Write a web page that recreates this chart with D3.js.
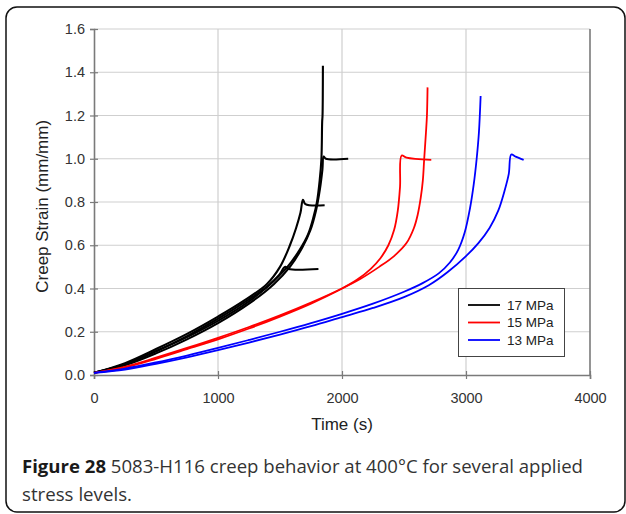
<!DOCTYPE html>
<html lang="en">
<head>
<meta charset="UTF-8">
<title>Creep behavior</title>
<style>
  body { margin: 0; background: #fff; }
  svg { display: block; }
</style>
</head>
<body>
<svg width="626" height="514"></svg>
<script src="https://d3js.org/d3.v7.min.js"></script>
<script>

// Data

const timeTicks = [0, 1000, 2000, 3000, 4000];
const strainTicks = [0, 0.2, 0.4, 0.6, 0.8, 1.0, 1.2, 1.4, 1.6];
const legendLabels = ["17 MPa", "15 MPa", "13 MPa"];

// 17 MPa specimens, [time (s), strain]
const mpa17a = [[0,0.01],[250,0.05],[500,0.11],[750,0.175],[1000,0.25],[1250,0.34],[1420,0.42],[1560,0.5],[1660,0.58],[1726,0.65],[1770,0.73],[1798,0.8],[1820,0.9],[1834,1.0],[1840,1.17],[1843,1.2],[1846,1.43]];
const mpa17b = [[0,0.01],[250,0.045],[500,0.1],[750,0.165],[1000,0.24],[1250,0.33],[1450,0.42],[1580,0.5],[1680,0.59],[1745,0.67],[1790,0.76],[1822,0.86],[1842,0.95],[1852,1.01],[1870,1.0],[2050,1.0]];
const mpa17c = [[0,0.01],[250,0.055],[500,0.12],[750,0.19],[1000,0.27],[1200,0.34],[1393,0.42],[1500,0.5],[1580,0.6],[1630,0.68],[1665,0.75],[1685,0.81],[1705,0.79],[1860,0.785]];
const mpa17d = [[0,0.01],[250,0.05],[500,0.11],[750,0.18],[1000,0.26],[1250,0.35],[1400,0.41],[1490,0.46],[1542,0.5],[1570,0.49],[1810,0.49]];

// 15 MPa specimens
const mpa15a = [[0,0.01],[250,0.038],[500,0.08],[750,0.125],[1000,0.172],[1250,0.222],[1500,0.276],[1750,0.335],[2000,0.4],[2150,0.445],[2300,0.5],[2420,0.55],[2520,0.61],[2580,0.68],[2610,0.74],[2635,0.82],[2652,0.9],[2663,1.0],[2677,1.12],[2685,1.2],[2690,1.33]];
const mpa15b = [[0,0.01],[250,0.035],[500,0.075],[750,0.12],[1000,0.165],[1250,0.215],[1500,0.27],[1750,0.33],[2000,0.4],[2120,0.44],[2230,0.49],[2310,0.54],[2374,0.6],[2420,0.67],[2450,0.76],[2468,0.87],[2481,1.015],[2520,1.005],[2720,0.995]];

// 13 MPa specimens
const mpa13a = [[0,0.01],[250,0.03],[500,0.058],[750,0.09],[1000,0.125],[1250,0.162],[1500,0.2],[1750,0.24],[2000,0.283],[2250,0.33],[2500,0.385],[2650,0.425],[2780,0.47],[2870,0.52],[2938,0.58],[2990,0.66],[3032,0.77],[3062,0.88],[3086,1.0],[3104,1.12],[3118,1.29]];
const mpa13b = [[0,0.01],[250,0.025],[500,0.052],[750,0.082],[1000,0.115],[1250,0.15],[1500,0.187],[1750,0.226],[2000,0.268],[2250,0.31],[2500,0.36],[2700,0.415],[2850,0.475],[3000,0.55],[3100,0.61],[3190,0.68],[3260,0.76],[3310,0.85],[3345,0.93],[3365,1.02],[3400,1.01],[3465,0.995]];

// Colors

const COLORS = ["#000000", "#ff0000", "#0000ff"];

const series = [
  { data: mpa17a, level: 0 }, { data: mpa17b, level: 0 },
  { data: mpa17c, level: 0 }, { data: mpa17d, level: 0 },
  { data: mpa15a, level: 1 }, { data: mpa15b, level: 1 },
  { data: mpa13a, level: 2 }, { data: mpa13b, level: 2 },
];

// Layout

const margin = { left: 94, right: 36, top: 29, bottom: 139 };
const width = 626, height = 514;
const FONT = "'Liberation Sans', Arial, sans-serif";

const svg = d3.select("svg");

const x = d3.scaleLinear().domain([0, 4000]).range([margin.left, width - margin.right]);
const y = d3.scaleLinear().domain([0, 1.6]).range([height - margin.bottom, margin.top]);

// Frame

svg.append("rect")
  .attr("x", 6).attr("y", 7)
  .attr("width", 619).attr("height", 505)
  .attr("rx", 11)
  .attr("fill", "none")
  .attr("stroke", "#111")
  .attr("stroke-width", 1.5);

// Grid

svg.append("g")
  .selectAll("line")
  .data(strainTicks.slice(1))
  .join("line")
    .attr("x1", x(0)).attr("x2", x(4000))
    .attr("y1", d => y(d)).attr("y2", d => y(d))
    .attr("stroke", "#cfcfcf").attr("stroke-width", 1.2);

svg.append("g")
  .selectAll("line")
  .data(timeTicks.slice(1, -1))
  .join("line")
    .attr("x1", d => x(d)).attr("x2", d => x(d))
    .attr("y1", y(0)).attr("y2", y(1.6))
    .attr("stroke", "#cfcfcf").attr("stroke-width", 1.2);

// Axes

const xAxis = d3.axisBottom(x).tickValues(timeTicks).tickSize(4).tickFormat(d3.format("d"));
const yAxis = d3.axisLeft(y).tickValues(strainTicks).tickSize(4).tickFormat(d3.format(".1f"));

const gx = svg.append("g").attr("transform", `translate(0,${y(0)})`).call(xAxis);
const gy = svg.append("g").attr("transform", `translate(${x(0)},0)`).call(yAxis);

[gx, gy].forEach(g => {
  g.select(".domain").attr("stroke", "#7a7a7a").attr("stroke-width", 1.6);
  g.selectAll(".tick line").attr("stroke", "#7a7a7a").attr("stroke-width", 1.2);
  g.selectAll("text")
    .attr("fill", "#333")
    .style("font-family", FONT)
    .style("font-size", "14.5px");
});
gx.selectAll(".tick line").attr("y1", -4);
gy.selectAll(".tick line").attr("x1", 4);
gx.selectAll("text").attr("dy", "1.45em");
gy.selectAll("text").attr("x", -9);

// right border of plot
svg.append("line")
  .attr("x1", x(4000)).attr("x2", x(4000))
  .attr("y1", y(0)).attr("y2", y(1.6))
  .attr("stroke", "#7a7a7a").attr("stroke-width", 1.6);

// Titles

svg.append("text")
  .attr("x", (x(0) + x(4000)) / 2).attr("y", 430)
  .attr("text-anchor", "middle")
  .attr("fill", "#222")
  .style("font-family", FONT)
  .style("font-size", "17px")
  .text("Time (s)");

svg.append("text")
  .attr("transform", `translate(48,${y(0.78)}) rotate(-90)`)
  .attr("text-anchor", "middle")
  .attr("fill", "#222")
  .style("font-family", FONT)
  .style("font-size", "17px")
  .text("Creep Strain (mm/mm)");

// Curves

const line = d3.line()
  .x(d => x(d[0]))
  .y(d => y(d[1]))
  .curve(d3.curveCatmullRom.alpha(0.5));

svg.append("g")
  .attr("fill", "none")
  .selectAll("path")
  .data(series)
  .join("path")
    .attr("d", d => line(d.data))
    .attr("stroke", d => COLORS[d.level])
    .attr("stroke-width", d => d.level === 0 ? 2.1 : 1.8)
    .attr("stroke-linejoin", "round");

// Legend

const legend = svg.append("g");

legend.append("rect")
  .attr("x", 458.5).attr("y", 288.5)
  .attr("width", 106).attr("height", 68)
  .attr("fill", "#fff")
  .attr("stroke", "#444")
  .attr("stroke-width", 1);

legendLabels.forEach((label, i) => {
  const ly = 305 + i * 17.5;
  legend.append("line")
    .attr("x1", 468).attr("x2", 500)
    .attr("y1", ly).attr("y2", ly)
    .attr("stroke", COLORS[i]).attr("stroke-width", 1.8);
  legend.append("text")
    .attr("x", 507).attr("y", ly)
    .attr("dy", "0.35em")
    .attr("fill", "#222")
    .style("font-family", FONT)
    .style("font-size", "13.5px")
    .text(label);
});

// Caption

const caption = svg.append("text")
  .attr("x", 22).attr("y", 473)
  .attr("fill", "#333")
  .attr("textLength", 561)
  .attr("lengthAdjust", "spacingAndGlyphs")
  .style("font-family", "'Open Sans', 'Noto Sans', sans-serif")
  .style("font-size", "18.5px");
caption.append("tspan").style("font-weight", "bold").attr("fill", "#1a1a1a").text("Figure 28");
caption.append("tspan").text(" 5083-H116 creep behavior at 400°C for several applied");

svg.append("text")
  .attr("x", 22).attr("y", 501)
  .attr("fill", "#333")
  .attr("textLength", 110)
  .attr("lengthAdjust", "spacingAndGlyphs")
  .style("font-family", "'Open Sans', 'Noto Sans', sans-serif")
  .style("font-size", "18.5px")
  .text("stress levels.");

</script>
</body>
</html>
